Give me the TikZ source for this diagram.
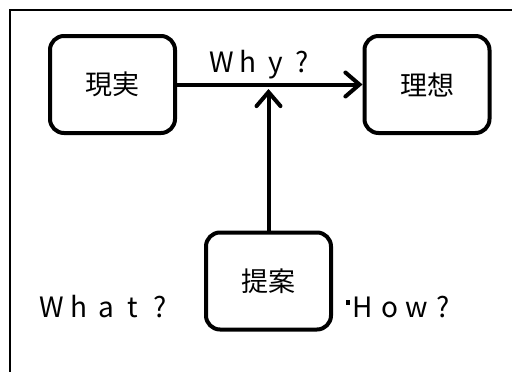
\documentclass[tikz,border=0pt]{standalone}
\usepackage{fontspec}
\newfontfamily\jp{Noto Sans CJK JP}
\usetikzlibrary{arrows.meta}
\newcommand\wch[1]{\makebox[27pt]{#1}}
\begin{document}
\begin{tikzpicture}[x=1pt,y=-1pt,
  box/.style={draw=black,line width=4pt,rounded corners=14pt,minimum width=125pt,minimum height=97pt,inner sep=0pt,font=\jp\fontsize{27}{27}\selectfont},
  lbl/.style={inner sep=0pt,anchor=base,font=\jp\fontsize{28}{28}\selectfont},
  conn/.style={line width=4pt,-{Straight Barb[length=14pt,width=24pt,line width=4pt,line cap=round]}}]
\fill[white] (0,0) rectangle (512,372);
\useasboundingbox (0,0) rectangle (512,372);
\draw[line width=1.6pt] (10,372) -- (10,10) -- (512,10);
\node[box] (genjitsu) at (112.5,84.5) {現実};
\node[box] (riso) at (427,84.5) {理想};
\node[box] (teian) at (268.5,281) {提案};
\coordinate (meet) at (268.5,89);
\draw[conn] (genjitsu.east) -- (riso.west);
\draw[conn] (teian.north) -- (meet);
\node[lbl] (why) at (262,72) {\wch{W}\wch{h}\wch{y}\wch{?}};
\node[lbl] (what) at (106,317) {\wch{W}\wch{h}\wch{a}\wch{t}\wch{?}};
\node[lbl] (how) at (403,317) {\wch{H}\wch{o}\wch{w}\wch{?}};
\fill (346,300) rectangle (350,305);
\end{tikzpicture}
\end{document}
